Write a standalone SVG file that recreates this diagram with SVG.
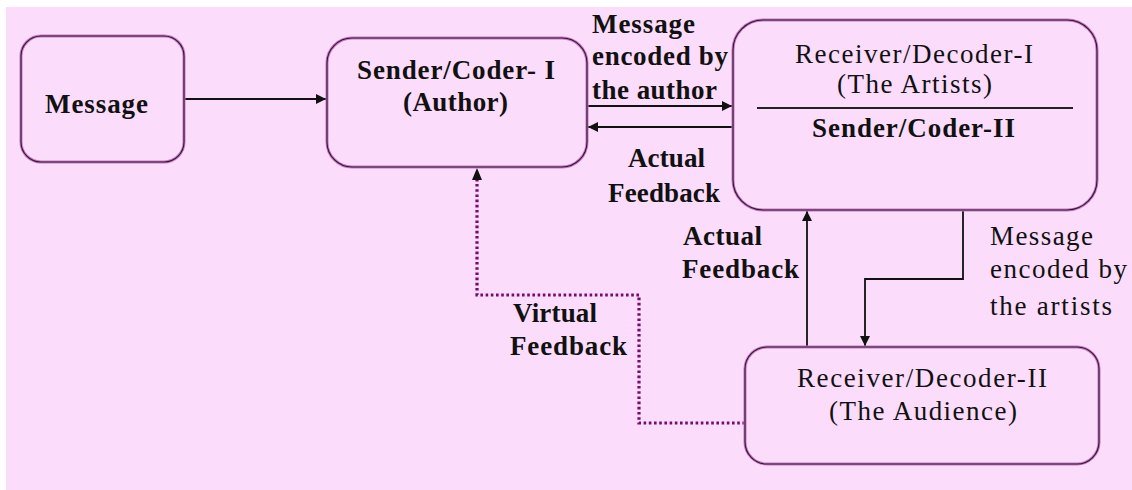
<svg xmlns="http://www.w3.org/2000/svg" width="1132" height="490" viewBox="0 0 1132 490">
<style>
.bg{fill:#FBDCFB}
.boxo{fill:#FBDCFB;stroke:#C878C4;stroke-width:3}
.boxi{fill:none;stroke:#2a1a2a;stroke-width:1.1}
.t{font-family:'Liberation Serif','DejaVu Serif','Times New Roman',serif;font-size:27px;fill:#111}
.b{font-weight:bold}
.c{fill:none;stroke:#111;stroke-width:1.8}
.dot{fill:none;stroke:#7a0a6a;stroke-width:3.2;stroke-dasharray:2.6 2.6}
</style>
<defs>
<marker id="ah" viewBox="0 0 10 10" refX="10" refY="5" markerWidth="10" markerHeight="10" markerUnits="userSpaceOnUse" orient="auto">
<path d="M0,0 L10,5 L0,10 z" fill="#111"/>
</marker>
</defs>
<rect class="bg" x="6" y="7" width="1126" height="483"/>
<g id="connectors">
<path class="c" d="M184,99 H326" marker-end="url(#ah)"/>
<path class="c" d="M587,106 H732" marker-end="url(#ah)"/>
<path class="c" d="M733,127 H588" marker-end="url(#ah)"/>
<path class="c" d="M807,347 V211" marker-end="url(#ah)"/>
<path class="c" d="M963,210 V279 H865 V346" marker-end="url(#ah)"/>
<path class="dot" d="M745,423 H639 V295 H477 V178"/>
<path d="M472,180 L477,168 L482,180 z" fill="#111"/>
</g>
<g id="node-message">
<rect class="boxo" x="21" y="36" width="163" height="126" rx="20"/>
<rect class="boxi" x="21" y="36" width="163" height="126" rx="20"/>
<text class="t b" x="45" y="113" textLength="103" lengthAdjust="spacing">Message</text>
</g>
<g id="node-sender">
<rect class="boxo" x="327" y="38" width="260" height="129" rx="25"/>
<rect class="boxi" x="327" y="38" width="260" height="129" rx="25"/>
<text class="t b" x="357" y="79" textLength="198" lengthAdjust="spacing">Sender/Coder- I</text>
<text class="t b" x="403" y="111" textLength="105" lengthAdjust="spacing">(Author)</text>
</g>
<g id="node-receiver1">
<rect class="boxo" x="733" y="20" width="364" height="190" rx="30"/>
<rect class="boxi" x="733" y="20" width="364" height="190" rx="30"/>
<text class="t" x="795" y="63" textLength="238" lengthAdjust="spacing">Receiver/Decoder-I</text>
<text class="t" x="837" y="93" textLength="155" lengthAdjust="spacing">(The Artists)</text>
<line x1="757" y1="108" x2="1073" y2="108" stroke="#222" stroke-width="1.8"/>
<text class="t b" x="812" y="137" textLength="203" lengthAdjust="spacing">Sender/Coder-II</text>
</g>
<g id="node-receiver2">
<rect class="boxo" x="745" y="347" width="354" height="117" rx="22"/>
<rect class="boxi" x="745" y="347" width="354" height="117" rx="22"/>
<text class="t" x="797" y="387" textLength="250" lengthAdjust="spacing">Receiver/Decoder-II</text>
<text class="t" x="829" y="420" textLength="188" lengthAdjust="spacing">(The Audience)</text>
</g>
<g id="labels">
<text class="t b" x="592" y="33" textLength="103" lengthAdjust="spacing">Message</text>
<text class="t b" x="592" y="65" textLength="136" lengthAdjust="spacing">encoded by</text>
<text class="t b" x="592" y="99" textLength="125" lengthAdjust="spacing">the author</text>
<text class="t b" x="628" y="167" textLength="77" lengthAdjust="spacing">Actual</text>
<text class="t b" x="608" y="202" textLength="112" lengthAdjust="spacing">Feedback</text>
<text class="t b" x="683" y="245" textLength="79" lengthAdjust="spacing">Actual</text>
<text class="t b" x="682" y="278" textLength="117" lengthAdjust="spacing">Feedback</text>
<text class="t b" x="513" y="322" textLength="84" lengthAdjust="spacing">Virtual</text>
<text class="t b" x="510" y="355" textLength="117" lengthAdjust="spacing">Feedback</text>
<text class="t" x="990" y="245" textLength="103" lengthAdjust="spacing">Message</text>
<text class="t" x="990" y="278" textLength="137" lengthAdjust="spacing">encoded by</text>
<text class="t" x="990" y="315" textLength="122" lengthAdjust="spacing">the artists</text>
</g>
</svg>
